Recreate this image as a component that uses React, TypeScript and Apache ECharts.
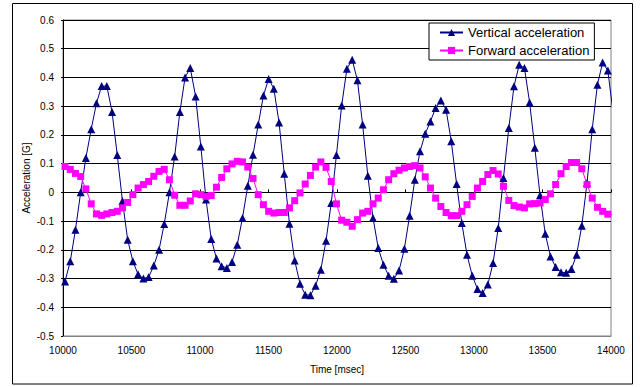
import { useEffect, useRef } from "react";
import * as echarts from "echarts";

const times = [
  10015, 10053, 10091, 10129, 10167, 10206, 10244, 10282, 10320, 10358,
  10396, 10434, 10472, 10510, 10548, 10587, 10625, 10663, 10701, 10739,
  10777, 10815, 10853, 10891, 10929, 10968, 11006, 11044, 11082, 11120,
  11158, 11196, 11234, 11272, 11310, 11349, 11387, 11425, 11463, 11501,
  11539, 11577, 11615, 11653, 11691, 11730, 11768, 11806, 11844, 11882,
  11920, 11958, 11996, 12034, 12072, 12111, 12149, 12187, 12225, 12263,
  12301, 12339, 12377, 12415, 12453, 12492, 12530, 12568, 12606, 12644,
  12682, 12720, 12758, 12796, 12834, 12873, 12911, 12949, 12987, 13025,
  13063, 13101, 13139, 13177, 13215, 13254, 13292, 13330, 13368, 13406,
  13444, 13482, 13520, 13558, 13596, 13635, 13673, 13711, 13749, 13787,
  13825, 13863, 13901, 13939, 13977,
];

const vertical = [
  -0.31, -0.24, -0.13, 0.0, 0.12, 0.22, 0.31, 0.37, 0.37, 0.28,
  0.13, -0.03, -0.165, -0.24, -0.285, -0.3, -0.295, -0.255, -0.2, -0.11,
  0.0, 0.125, 0.28, 0.4, 0.433, 0.334, 0.16, -0.025, -0.162, -0.23,
  -0.257, -0.263, -0.242, -0.182, -0.089, 0.023, 0.131, 0.236, 0.337, 0.395,
  0.361, 0.243, 0.065, -0.109, -0.237, -0.318, -0.356, -0.358, -0.325, -0.269,
  -0.168, -0.037, 0.13, 0.302, 0.43, 0.462, 0.39, 0.236, 0.058, -0.089,
  -0.194, -0.252, -0.29, -0.301, -0.272, -0.196, -0.081, 0.044, 0.143, 0.204,
  0.247, 0.294, 0.32, 0.288, 0.178, 0.029, -0.107, -0.217, -0.29, -0.336,
  -0.35, -0.321, -0.246, -0.124, 0.05, 0.224, 0.369, 0.444, 0.433, 0.313,
  0.155, -0.01, -0.144, -0.223, -0.26, -0.278, -0.28, -0.267, -0.217, -0.116,
  0.033, 0.22, 0.375, 0.452, 0.424,
];

const forward = [
  0.09, 0.08, 0.066, 0.055, 0.012, -0.04, -0.075, -0.08, -0.075, -0.07,
  -0.066, -0.054, -0.035, -0.008, 0.015, 0.027, 0.038, 0.056, 0.073, 0.08,
  0.044, -0.01, -0.045, -0.045, -0.03, -0.005, -0.008, -0.014, -0.011, 0.018,
  0.052, 0.082, 0.099, 0.108, 0.106, 0.088, 0.048, -0.008, -0.043, -0.066,
  -0.072, -0.07, -0.07, -0.054, -0.029, -0.002, 0.029, 0.059, 0.088, 0.106,
  0.087, 0.038, -0.04, -0.097, -0.104, -0.118, -0.095, -0.072, -0.066, -0.04,
  -0.02, 0.009, 0.044, 0.065, 0.077, 0.085, 0.09, 0.093, 0.085, 0.054,
  0.015, -0.02, -0.049, -0.07, -0.081, -0.081, -0.066, -0.043, -0.014, 0.015,
  0.038, 0.062, 0.076, 0.064, 0.021, -0.028, -0.046, -0.051, -0.054, -0.04,
  -0.039, -0.037, -0.025, -0.005, 0.027, 0.065, 0.09, 0.104, 0.104, 0.082,
  0.027, -0.02, -0.052, -0.066, -0.076,
];

// Samples just outside the axis range (line visible, no marker)
const edgeTimes = [9969, 14044];
const verticalEdge = [-0.33, 0.166];
const forwardEdge = [0.1, -0.078];

const seriesNames = ["Vertical acceleration", "Forward acceleration"];
const xRange = { min: 10000, max: 14000, step: 500 };
const yRange = { min: -0.5, max: 0.6, step: 0.1 };
const xTitle = "Time [msec]";
const yTitle = "Acceleration [G]";

const FONT = "'Liberation Sans', Arial, sans-serif";

function buildData(values: number[], edges: number[]) {
  const pts: any[] = [];
  pts.push({ value: [edgeTimes[0], edges[0]], symbol: "none" });
  times.forEach((t, i) => pts.push([t, values[i]]));
  pts.push({ value: [edgeTimes[1], edges[1]], symbol: "none" });
  return pts;
}

export default function App() {
  const ref = useRef<HTMLDivElement>(null);
  useEffect(() => {
    if (!ref.current) return;
    const chart = echarts.init(ref.current, null, { renderer: "svg" });
    chart.setOption({
      animation: false,
      backgroundColor: "#ffffff",
      textStyle: { fontFamily: FONT },
      grid: {
        left: 63,
        right: 29,
        top: 20,
        bottom: 51,
        show: true,
        borderColor: "#808080",
        borderWidth: 1,
        backgroundColor: "#ffffff",
      },
      legend: {
        orient: "vertical",
        left: 429,
        top: 23,
        padding: [3, 5, 3, 10],
        itemGap: 5,
        itemWidth: 23,
        itemHeight: 9,
        backgroundColor: "#ffffff",
        borderColor: "#000000",
        borderWidth: 1,
        data: seriesNames,
        textStyle: { fontSize: 13, color: "#000", fontFamily: FONT },
      },
      xAxis: [
        {
          type: "value",
          min: xRange.min,
          max: xRange.max,
          interval: xRange.step,
          position: "bottom",
          axisLine: { show: true, onZero: false, lineStyle: { color: "#808080", width: 1 } },
          axisTick: { show: false },
          splitLine: { show: false },
          axisLabel: {
            fontSize: 10,
            color: "#000",
            margin: 9,
            fontFamily: FONT,
            formatter: (v: number) => String(v),
          },
          name: xTitle,
          nameLocation: "middle",
          nameGap: 28,
          nameMoveOverlap: false,
          nameTextStyle: { fontSize: 10, color: "#000", fontFamily: FONT },
        },
        {
          type: "value",
          min: xRange.min,
          max: xRange.max,
          interval: xRange.step,
          position: "top",
          axisLine: { show: true, onZero: true, lineStyle: { color: "#000", width: 1 } },
          axisTick: { show: true, length: 3, lineStyle: { color: "#000" } },
          axisLabel: { show: false },
          splitLine: { show: false },
        },
      ],
      yAxis: {
        type: "value",
        min: yRange.min,
        max: yRange.max,
        interval: yRange.step,
        axisLine: { show: true, lineStyle: { color: "#000", width: 1 } },
        axisTick: { show: true, length: 2, lineStyle: { color: "#000" } },
        splitLine: { show: true, lineStyle: { color: "#000", width: 1 } },
        axisLabel: {
          fontSize: 10,
          color: "#000",
          margin: 9,
          fontFamily: FONT,
          formatter: (v: number) => String(Number(v.toFixed(1))),
        },
        name: yTitle,
        nameLocation: "middle",
        nameGap: 32,
        nameMoveOverlap: false,
        nameTextStyle: { fontSize: 10, color: "#000", fontFamily: FONT },
      },
      graphic: [
        {
          type: "rect",
          shape: { x: 12.5, y: 3.5, width: 620, height: 380.5 },
          style: { fill: "none", stroke: "#000", lineWidth: 1 },
          z: 100,
          silent: true,
        },
      ],
      series: [
        {
          name: seriesNames[0],
          type: "line",
          xAxisIndex: 0,
          data: buildData(vertical, verticalEdge),
          symbol: "triangle",
          symbolSize: 8,
          showAllSymbol: true,
          clip: false,
          lineStyle: { color: "#000080", width: 1 },
          itemStyle: { color: "#000080" },
        },
        {
          name: seriesNames[1],
          type: "line",
          xAxisIndex: 0,
          data: buildData(forward, forwardEdge),
          symbol: "rect",
          symbolSize: 7,
          showAllSymbol: true,
          clip: false,
          lineStyle: { color: "#ff00ff", width: 1 },
          itemStyle: { color: "#ff00ff" },
        },
      ],
    });
    return () => chart.dispose();
  }, []);
  return (
    <div
      ref={ref}
      style={{ position: "fixed", left: 0, top: 0, width: 640, height: 387, background: "#fff" }}
    />
  );
}
